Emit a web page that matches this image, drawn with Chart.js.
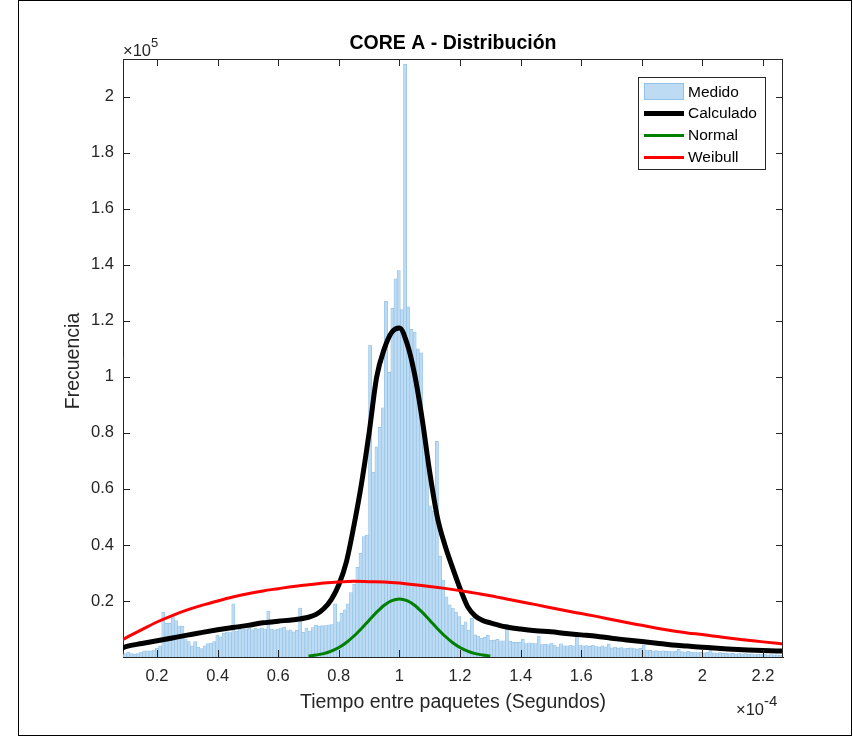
<!DOCTYPE html>
<html><head><meta charset="utf-8">
<script src="https://cdn.jsdelivr.net/npm/chart.js@4.4.1/dist/chart.umd.min.js"></script>
<style>html,body{margin:0;padding:0;background:#fff;}canvas{display:block;}</style>
</head><body>
<canvas id="c" width="853" height="736"></canvas>
<script>
// ---- data (x in 1e-4 s, y in 1e5 counts) ----
const binStart = 0.079;
const binWidth = 0.0105;
const medido = [
 0.008,0.012,0.018,0.012,0.01,0.012,0.018,0.022,0.022,0.022,0.025,0.032,0.04,
 0.16,0.12,0.12,0.15,0.13,0.11,0.11,0.065,0.055,0.04,0.055,0.035,0.03,0.04,0.048,0.05,0.055,0.078,0.072,0.085,0.09,0.087,0.19,
 0.092,0.1,0.098,0.1,0.102,0.097,0.102,0.1,0.104,0.1,0.164,0.1,0.097,0.1,0.103,0.106,0.094,0.097,0.09,0.095,0.175,0.088,0.103,0.092,0.105,0.114,0.11,0.112,0.112,0.115,0.116,0.19,0.126,
 0.156,0.168,0.19,0.23,0.26,0.32,0.37,0.43,0.435,1.114,
 0.66,0.75,0.82,0.89,1.27,1.016,1.245,1.35,1.38,1.24,2.117,1.25,1.17,1.16,1.1,1.086,
 0.78,0.69,0.54,0.52,0.77,0.36,0.275,0.215,0.186,0.175,
 0.16,0.144,0.114,0.126,0.096,0.138,0.079,0.075,0.067,0.07,0.077,0.06,0.06,0.063,0.058,0.058,0.117,0.057,0.052,0.052,0.052,0.063,0.048,0.051,0.05,0.048,0.075,0.044,0.045,0.044,0.05,0.042,0.035,0.047,0.04,0.04,
 0.042,0.04,0.069,0.043,0.04,0.041,0.038,0.042,0.037,0.036,0.04,0.036,0.046,0.033,0.035,0.032,0.034,0.03,0.031,0.033,0.03,0.029,0.031,0.043,0.025,0.024,0.022,0.023,0.021,0.022,0.02,0.021,0.019,0.02,0.027,0.019,0.018,0.02,0.017,0.018,0.016,0.017,0.015,0.017,0.027,0.015,0.014,0.016,0.013,0.014,0.012,0.013,0.011,0.012,0.011,0.012,0.01,0.011,0.009,0.01,0.009,0.01,0.008,0.009,0.008,0.008,0.007,0.008
];
const calcX = [0.08,0.1,0.15,0.2,0.25,0.3,0.35,0.4,0.45,0.5,0.55,0.6,0.65,0.7,0.725,0.75,0.775,0.8,0.825,0.85,0.875,0.9,0.925,0.95,0.975,1.0,1.025,1.05,1.075,1.1,1.125,1.15,1.175,1.2,1.225,1.25,1.275,1.3,1.35,1.4,1.45,1.5,1.55,1.6,1.65,1.7,1.75,1.8,1.85,1.9,1.95,2.0,2.05,2.1,2.15,2.2,2.27];
const calcY = [0.03,0.038,0.048,0.058,0.068,0.078,0.088,0.097,0.105,0.113,0.122,0.128,0.133,0.142,0.152,0.172,0.205,0.258,0.34,0.47,0.62,0.8,1.0,1.1,1.16,1.175,1.12,1.01,0.85,0.66,0.5,0.4,0.32,0.245,0.18,0.147,0.13,0.122,0.108,0.1,0.094,0.09,0.084,0.079,0.074,0.067,0.061,0.055,0.049,0.043,0.039,0.035,0.031,0.028,0.025,0.023,0.021];
const normX = [0.7,0.725,0.75,0.775,0.8,0.825,0.85,0.875,0.9,0.925,0.95,0.975,1.0,1.025,1.05,1.075,1.1,1.125,1.15,1.175,1.2,1.225,1.25,1.275,1.3];
const normY = [0.0035,0.007,0.012,0.021,0.034,0.052,0.075,0.102,0.131,0.16,0.185,0.201,0.207,0.201,0.185,0.16,0.131,0.102,0.075,0.052,0.034,0.021,0.012,0.007,0.0035];
const weibX = [0.08,0.1,0.15,0.2,0.25,0.3,0.35,0.4,0.45,0.5,0.55,0.6,0.65,0.7,0.75,0.8,0.85,0.9,0.95,1.0,1.05,1.1,1.15,1.2,1.25,1.3,1.35,1.4,1.45,1.5,1.55,1.6,1.65,1.7,1.75,1.8,1.85,1.9,1.95,2.0,2.05,2.1,2.15,2.2,2.27];
const weibY = [0.058,0.07,0.098,0.125,0.148,0.168,0.185,0.2,0.214,0.226,0.236,0.244,0.252,0.258,0.264,0.268,0.27,0.269,0.268,0.264,0.258,0.252,0.245,0.237,0.228,0.219,0.208,0.197,0.187,0.176,0.165,0.155,0.145,0.134,0.123,0.113,0.103,0.094,0.086,0.08,0.073,0.066,0.06,0.054,0.046];
const xTicks = [0.2,0.4,0.6,0.8,1.0,1.2,1.4,1.6,1.8,2.0,2.2];
const xTickLabels = ['0.2','0.4','0.6','0.8','1','1.2','1.4','1.6','1.8','2','2.2'];
const yTicks = [0.2,0.4,0.6,0.8,1.0,1.2,1.4,1.6,1.8,2.0];
const yTickLabels = ['0.2','0.4','0.6','0.8','1','1.2','1.4','1.6','1.8','2'];
const seriesNames = ['Medido','Calculado','Normal','Weibull'];
const titleText = 'CORE A - Distribución';
const xTitle = 'Tiempo entre paquetes (Segundos)';
const yTitle = 'Frecuencia';

// ---- styles ----
const FONT = '"Liberation Sans", Arial, Helvetica, sans-serif';
const AX = '#262626';
const barFill = 'rgb(189,219,242)';
const barEdge = 'rgb(146,194,232)';
const cBlack = '#000000', cGreen = 'rgb(0,128,0)', cRed = 'rgb(255,0,0)';

const pts = (xs, ys) => xs.map((x, i) => ({x, y: ys[i]}));
const barData = medido.map((v, i) => ({x: binStart + binWidth * (i + 0.5), y: v}));
const lbl = (ticks, labels) => (v) => { const i = ticks.findIndex(t => Math.abs(t - v) < 1e-6); return i >= 0 ? labels[i] : ''; };

const deco = {
  id: 'deco',
  afterDraw(chart) {
    const ctx = chart.ctx, a = chart.chartArea, sx = chart.scales.x, sy = chart.scales.y;
    ctx.save();
    // outer figure border
    ctx.strokeStyle = '#000'; ctx.lineWidth = 1;
    ctx.strokeRect(18.5, 0.5, 833, 735);
    // box top/right
    ctx.strokeStyle = AX; ctx.lineWidth = 1;
    ctx.beginPath();
    ctx.moveTo(a.left, a.top + 0.5); ctx.lineTo(a.right, a.top + 0.5);
    ctx.moveTo(a.right - 0.5, a.top); ctx.lineTo(a.right - 0.5, a.bottom);
    ctx.stroke();
    // inward ticks
    const TL = 7;
    ctx.beginPath();
    xTicks.forEach(v => { const p = Math.round(sx.getPixelForValue(v)) + 0.5;
      ctx.moveTo(p, a.bottom); ctx.lineTo(p, a.bottom - TL);
      ctx.moveTo(p, a.top); ctx.lineTo(p, a.top + TL); });
    yTicks.forEach(v => { const p = Math.round(sy.getPixelForValue(v)) + 0.5;
      ctx.moveTo(a.left, p); ctx.lineTo(a.left + TL, p);
      ctx.moveTo(a.right, p); ctx.lineTo(a.right - TL, p); });
    ctx.stroke();
    // title
    ctx.fillStyle = '#000';
    ctx.font = 'bold 19.5px ' + FONT; ctx.textAlign = 'center'; ctx.textBaseline = 'middle';
    ctx.fillText(titleText, (a.left + a.right) / 2, 44);
    // axis titles
    ctx.fillStyle = AX; ctx.font = '19.5px ' + FONT;
    ctx.fillText(xTitle, (a.left + a.right) / 2, 703);
    ctx.save(); ctx.translate(74, (a.top + a.bottom) / 2 + 3); ctx.rotate(-Math.PI / 2);
    ctx.fillText(yTitle, 0, 0); ctx.restore();
    // exponents
    ctx.textAlign = 'left'; ctx.textBaseline = 'alphabetic';
    ctx.font = '16.5px ' + FONT;
    ctx.fillText('\u00d710', 123, 56);
    let w = ctx.measureText('\u00d710').width;
    ctx.font = '13px ' + FONT; ctx.fillText('5', 123 + w, 47);
    ctx.font = '16.5px ' + FONT;
    ctx.fillText('\u00d710', 736, 715);
    w = ctx.measureText('\u00d710').width;
    ctx.font = '15px ' + FONT; ctx.fillText('-4', 736 + w, 706);
    // legend
    const lx = 638.5, ly = 77.5, lw = 127, lh = 92;
    ctx.fillStyle = '#fff'; ctx.fillRect(lx, ly, lw, lh);
    ctx.strokeStyle = AX; ctx.lineWidth = 1; ctx.strokeRect(lx, ly, lw, lh);
    const rows = [92, 113.5, 135.5, 157.5];
    ctx.fillStyle = barFill; ctx.fillRect(644, 83, 40, 17);
    ctx.strokeStyle = barEdge; ctx.strokeRect(644.5, 83.5, 39, 16);
    [[cBlack, 5], [cGreen, 3], [cRed, 3]].forEach((s, i) => {
      ctx.strokeStyle = s[0]; ctx.lineWidth = s[1];
      ctx.beginPath(); ctx.moveTo(644, rows[i + 1]); ctx.lineTo(684, rows[i + 1]); ctx.stroke();
    });
    ctx.fillStyle = '#000'; ctx.font = '15.5px ' + FONT; ctx.textBaseline = 'middle';
    seriesNames.forEach((n, i) => ctx.fillText(n, 688, rows[i] + 0.5));
    ctx.restore();
  }
};

new Chart(document.getElementById('c'), {
  type: 'bar',
  data: {
    datasets: [
      {type: 'line', label: seriesNames[3], data: pts(weibX, weibY), borderColor: cRed, borderWidth: 3, pointRadius: 0, cubicInterpolationMode: 'monotone', order: 0},
      {type: 'line', label: seriesNames[2], data: pts(normX, normY), borderColor: cGreen, borderWidth: 3, pointRadius: 0, cubicInterpolationMode: 'monotone', order: 1},
      {type: 'line', label: seriesNames[1], data: pts(calcX, calcY), borderColor: cBlack, borderWidth: 5, pointRadius: 0, cubicInterpolationMode: 'monotone', order: 2},
      {type: 'bar', label: seriesNames[0], data: barData, backgroundColor: barFill, borderColor: barEdge, borderWidth: 0.7, barPercentage: 1, categoryPercentage: 1, grouped: false, order: 3}
    ]
  },
  options: {
    responsive: false, animation: false, devicePixelRatio: 1,
    layout: {padding: {left: 0, top: 59, right: 70, bottom: 0}},
    plugins: {legend: {display: false}, tooltip: {enabled: false}, title: {display: false}},
    scales: {
      x: {type: 'linear', min: 0.0877, max: 2.266, offset: false,
        grid: {display: false, drawTicks: false, offset: false},
        border: {display: true, color: AX, width: 1},
        ticks: {padding: 10, color: AX, font: {family: FONT, size: 16.5}, maxRotation: 0, autoSkip: false, callback: lbl(xTicks, xTickLabels)},
        afterBuildTicks: s => { s.ticks = xTicks.map(v => ({value: v})); },
        afterFit: s => { s.height = 79; }
      },
      y: {type: 'linear', min: 0, max: 2.135,
        grid: {display: false, drawTicks: false},
        border: {display: true, color: AX, width: 1},
        ticks: {padding: 9, color: AX, font: {family: FONT, size: 16.5}, autoSkip: false, callback: lbl(yTicks, yTickLabels)},
        afterBuildTicks: s => { s.ticks = yTicks.map(v => ({value: v})); },
        afterFit: s => { s.width = 123; }
      }
    }
  },
  plugins: [deco]
});
</script>
</body></html>
